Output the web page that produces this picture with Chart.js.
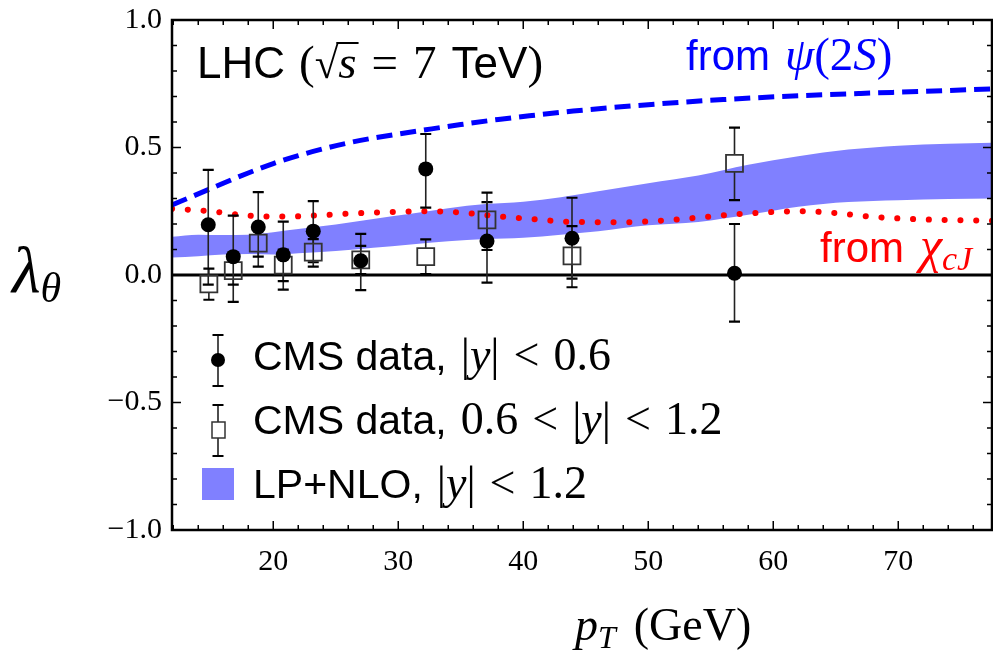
<!DOCTYPE html>
<html>
<head>
<meta charset="utf-8">
<script src="https://cdn.jsdelivr.net/npm/chart.js@4.4.1/dist/chart.umd.min.js"></script>
<style>
  html, body { margin: 0; padding: 0; background: #fff; overflow: hidden; }
  #wrap { width: 993px; height: 652px; }
  #grafico { display: block; }
</style>
</head>
<body>
<div id="wrap"><canvas id="grafico" width="993" height="652"></canvas></div>
<script>
// CMS pontos, |y| < 0.6
const ptCentral = [14.8, 16.8, 18.8, 20.8, 23.2, 27.0, 32.2, 37.1, 43.9, 56.9];
const lamCentral = [0.197, 0.072, 0.188, 0.079, 0.172, 0.056, 0.416, 0.133, 0.144, 0.007];
const lamCentralHi = [0.412, 0.233, 0.325, 0.209, 0.290, 0.161, 0.553, 0.286, 0.303, 0.200];
const lamCentralLo = [-0.038, -0.105, 0.033, -0.057, 0.050, -0.059, 0.264, -0.030, -0.014, -0.183];

// CMS pontos, 0.6 < |y| < 1.2
const ptForward = [14.85, 16.8, 18.8, 20.8, 23.2, 27.0, 32.2, 37.1, 43.9, 56.9];
const lamForward = [-0.035, 0.017, 0.125, 0.039, 0.090, 0.059, 0.072, 0.216, 0.075, 0.438];
const lamForwardHi = [0.025, 0.072, 0.178, 0.100, 0.141, 0.114, 0.140, 0.323, 0.192, 0.578];
const lamForwardLo = [-0.097, -0.038, 0.072, -0.024, 0.033, 0.004, 0.004, 0.098, -0.048, 0.294];

// banda LP+NLO
const ptBand = [11.9, 14, 16, 18, 20, 22, 25, 28, 31, 34, 37, 40, 43, 46, 50, 54, 58, 62, 66, 70, 74, 77.5];
const bandTop = [0.150, 0.158, 0.157, 0.158, 0.168, 0.180, 0.198, 0.220, 0.240, 0.262, 0.278, 0.287, 0.305, 0.328, 0.360, 0.390, 0.432, 0.466, 0.492, 0.507, 0.515, 0.519];
const bandBottom = [0.069, 0.074, 0.080, 0.082, 0.080, 0.085, 0.094, 0.107, 0.120, 0.132, 0.141, 0.146, 0.158, 0.172, 0.195, 0.208, 0.236, 0.268, 0.286, 0.293, 0.298, 0.300];

// curvas de feed-down
const ptPsi = [11.9, 14, 16, 18, 20, 22, 24, 26, 28, 30, 32, 35, 38, 41, 44, 50, 56, 62, 67, 72, 77.5];
const lamPsi = [0.275, 0.318, 0.360, 0.400, 0.437, 0.468, 0.495, 0.518, 0.537, 0.553, 0.568, 0.590, 0.610, 0.627, 0.643, 0.668, 0.688, 0.703, 0.712, 0.720, 0.730];
const ptChi = [11.9, 15, 18, 21, 24, 27, 30, 32.5, 35, 38, 41, 44, 48, 51, 54, 57, 60, 62.5, 65, 68, 72, 77.5];
const lamChi = [0.260, 0.250, 0.233, 0.229, 0.235, 0.243, 0.248, 0.250, 0.245, 0.230, 0.218, 0.208, 0.207, 0.213, 0.225, 0.238, 0.247, 0.250, 0.243, 0.228, 0.218, 0.213];

const xTicks = [20, 30, 40, 50, 60, 70];
const yTicks = [-1, -0.5, 0, 0.5, 1];

const pares = (xs, ys) => xs.map((x, i) => ({ x: x, y: ys[i] }));

const sans = s => s + 'px "Liberation Sans"';
const serif = s => s + 'px "Liberation Serif"';
const serifIt = s => 'italic ' + s + 'px "Liberation Serif"';

// escreve uma sequência de pedaços de texto com fontes diferentes
function escreve(ctx, x, y, partes, cor) {
    ctx.fillStyle = cor;
    ctx.strokeStyle = cor;
    ctx.textBaseline = 'alphabetic';
    ctx.textAlign = 'left';
    for (const p of partes) {
        if (p.gap) { x += p.gap; continue; }
        ctx.font = p.f;
        ctx.fillText(p.t, x, y + (p.dy || 0));
        const w = ctx.measureText(p.t).width;
        if (p.barra) {
            ctx.fillRect(x - 2, y - p.barra, w + 4, 2);
        }
        x += w;
    }
    return x;
}

function barraErro(ctx, x, yHi, yLo, abertura) {
    ctx.beginPath();
    if (abertura) {
        ctx.moveTo(x, yHi); ctx.lineTo(x, abertura[0]);
        ctx.moveTo(x, abertura[1]); ctx.lineTo(x, yLo);
    } else {
        ctx.moveTo(x, yHi); ctx.lineTo(x, yLo);
    }
    ctx.lineWidth = 1.6;
    ctx.strokeStyle = '#222';
    ctx.stroke();
    ctx.beginPath();
    ctx.moveTo(x - 5.5, yHi); ctx.lineTo(x + 5.5, yHi);
    ctx.moveTo(x - 5.5, yLo); ctx.lineTo(x + 5.5, yLo);
    ctx.lineWidth = 2.2;
    ctx.strokeStyle = '#000';
    ctx.stroke();
}

// tira o espaço extra que o Chart.js reserva para os rótulos das pontas
function semFolga(s) {
    s.paddingTop = 0; s.paddingBottom = 0;
    s.paddingLeft = 0; s.paddingRight = 0;
}

const BORDA_DIREITA = 992;

const moldura = {
    id: 'moldura',
    // estica a área do gráfico até a borda direita do canvas
    afterLayout(chart) {
        const a = chart.chartArea;
        const dx = BORDA_DIREITA - a.right;
        if (!dx) return;
        a.right += dx;
        a.width += dx;
        const x = chart.scales.x;
        x.right += dx;
        x.width += dx;
        x.configure();
    },
    beforeDatasetsDraw(chart) {
        const { ctx, chartArea: a, scales: { y } } = chart;
        ctx.save();
        ctx.beginPath();
        ctx.moveTo(a.left, y.getPixelForValue(0));
        ctx.lineTo(a.right, y.getPixelForValue(0));
        ctx.lineWidth = 3;
        ctx.strokeStyle = '#000';
        ctx.stroke();
        ctx.restore();
    },
    afterDatasetDraw(chart, args) {
        if (args.meta.label !== 'psi2S') return;
        const { ctx, chartArea: a, scales: { x, y } } = chart;
        ctx.save();
        ctx.beginPath();
        ctx.rect(a.left, a.top, a.right - a.left, a.bottom - a.top);
        ctx.clip();
        ptCentral.forEach((pt, i) => {
            barraErro(ctx, x.getPixelForValue(pt), y.getPixelForValue(lamCentralHi[i]), y.getPixelForValue(lamCentralLo[i]));
        });
        ptForward.forEach((pt, i) => {
            const yc = y.getPixelForValue(lamForward[i]);
            barraErro(ctx, x.getPixelForValue(pt), y.getPixelForValue(lamForwardHi[i]), y.getPixelForValue(lamForwardLo[i]), [yc - 8.5, yc + 8.5]);
        });
        ctx.restore();
    },
    afterDraw(chart) {
        const { ctx, chartArea: a, scales: { x, y } } = chart;
        ctx.save();
        // ticks para dentro nos quatro lados
        ctx.strokeStyle = '#000';
        ctx.lineWidth = 1.5;
        ctx.beginPath();
        for (let v = 12; v <= 77; v += 2) {
            const px = x.getPixelForValue(v);
            const len = v % 10 === 0 ? 9 : 5;
            ctx.moveTo(px, a.bottom); ctx.lineTo(px, a.bottom - len);
            ctx.moveTo(px, a.top); ctx.lineTo(px, a.top + len);
        }
        for (let k = -10; k <= 10; k++) {
            const py = y.getPixelForValue(k / 10);
            const len = k % 5 === 0 ? 9 : 5;
            ctx.moveTo(a.left, py); ctx.lineTo(a.left + len, py);
            ctx.moveTo(a.right, py); ctx.lineTo(a.right - len, py);
        }
        ctx.stroke();
        ctx.lineWidth = 2.5;
        ctx.strokeRect(a.left, a.top, a.right - a.left, a.bottom - a.top);

        // textos dentro do gráfico
        escreve(ctx, 197, 78, [
            { t: 'LHC', f: sans(44) }, { gap: 14 },
            { t: '(', f: serif(47) },
            { t: '\u221A', f: serif(43) },
            { t: 's', f: serifIt(47), barra: 36 }, { gap: 15 },
            { t: '=', f: serif(47) }, { gap: 15 },
            { t: '7', f: serif(47) }, { gap: 15 },
            { t: 'TeV', f: sans(44) },
            { t: ')', f: serif(47) }
        ], '#000');
        escreve(ctx, 686, 70, [
            { t: 'from', f: sans(42) }, { gap: 15 },
            { t: '\u03C8', f: serifIt(47) },
            { t: '(2', f: serif(47) },
            { t: 'S', f: serifIt(47) },
            { t: ')', f: serif(47) }
        ], '#0000ff');
        escreve(ctx, 820, 262, [
            { t: 'from', f: sans(42) }, { gap: 16 },
            { t: '\u03C7', f: serifIt(50) },
            { t: 'cJ', f: serifIt(34), dy: 8 }
        ], '#ff0000');

        // legenda
        const linha = [370, 434, 498];
        escreve(ctx, 253, linha[0], [
            { t: 'CMS data,', f: sans(41) }, { gap: 14 },
            { t: '|', f: serif(46) }, { t: 'y', f: serifIt(46) }, { t: '|', f: serif(46) }, { gap: 14 },
            { t: '<', f: serif(46) }, { gap: 14 },
            { t: '0.6', f: serif(46) }
        ], '#000');
        escreve(ctx, 253, linha[1], [
            { t: 'CMS data,', f: sans(41) }, { gap: 14 },
            { t: '0.6', f: serif(46) }, { gap: 14 },
            { t: '<', f: serif(46) }, { gap: 14 },
            { t: '|', f: serif(46) }, { t: 'y', f: serifIt(46) }, { t: '|', f: serif(46) }, { gap: 14 },
            { t: '<', f: serif(46) }, { gap: 14 },
            { t: '1.2', f: serif(46) }
        ], '#000');
        escreve(ctx, 253, linha[2], [
            { t: 'LP+NLO,', f: sans(41) }, { gap: 14 },
            { t: '|', f: serif(46) }, { t: 'y', f: serifIt(46) }, { t: '|', f: serif(46) }, { gap: 14 },
            { t: '<', f: serif(46) }, { gap: 14 },
            { t: '1.2', f: serif(46) }
        ], '#000');
        barraErro(ctx, 218, 335, 386);
        ctx.beginPath(); ctx.arc(218, 360, 7, 0, 2 * Math.PI); ctx.fillStyle = '#000'; ctx.fill();
        barraErro(ctx, 218, 405, 456, [422, 438]);
        ctx.lineWidth = 1.5; ctx.strokeStyle = '#333';
        ctx.strokeRect(212, 422, 13, 16);
        ctx.fillStyle = '#8080ff';
        ctx.fillRect(202, 468, 32, 32);

        // títulos dos eixos
        escreve(ctx, 12, 292, [
            { t: '\u03BB', f: serifIt(66) },
            { t: '\u03B8', f: serifIt(42), dy: 10 }
        ], '#000');
        escreve(ctx, 575, 640, [
            { t: 'p', f: serifIt(46) },
            { t: 'T', f: serifIt(32), dy: 8 }, { gap: 18 },
            { t: '(GeV)', f: serif(46) }
        ], '#000');
        ctx.restore();
    }
};

const ctx = document.getElementById('grafico').getContext('2d');
new Chart(ctx, {
    type: 'scatter',
    data: {
        datasets: [
            {
                label: 'central',
                data: pares(ptCentral, lamCentral),
                pointStyle: 'circle',
                pointRadius: 7.5,
                backgroundColor: '#000',
                borderColor: '#000',
                borderWidth: 0,
                order: 1
            },
            {
                label: 'forward',
                data: pares(ptForward, lamForward),
                pointStyle: 'rect',
                pointRadius: 12,
                backgroundColor: 'rgba(0,0,0,0)',
                borderColor: '#333',
                borderWidth: 1.8,
                order: 2
            },
            {
                label: 'psi2S',
                data: pares(ptPsi, lamPsi),
                showLine: true,
                pointRadius: 0,
                borderColor: '#0000ff',
                borderWidth: 5,
                borderDash: [16, 8],
                cubicInterpolationMode: 'monotone',
                order: 3
            },
            {
                label: 'chicJ',
                data: pares(ptChi, lamChi),
                showLine: true,
                pointRadius: 0,
                borderColor: '#ff0000',
                borderWidth: 6,
                borderDash: [0.1, 15.7],
                borderCapStyle: 'round',
                cubicInterpolationMode: 'monotone',
                order: 4
            },
            {
                label: 'bandaTopo',
                data: pares(ptBand, bandTop),
                showLine: true,
                pointRadius: 0,
                borderWidth: 0,
                borderColor: 'rgba(0,0,0,0)',
                backgroundColor: '#8080ff',
                fill: '+1',
                cubicInterpolationMode: 'monotone',
                order: 5
            },
            {
                label: 'bandaBase',
                data: pares(ptBand, bandBottom),
                showLine: true,
                pointRadius: 0,
                borderWidth: 0,
                borderColor: 'rgba(0,0,0,0)',
                fill: false,
                cubicInterpolationMode: 'monotone',
                order: 6
            }
        ]
    },
    options: {
        responsive: false,
        animation: false,
        devicePixelRatio: 1,
        layout: { padding: { top: 20, right: 1, left: 0, bottom: 0 } },
        plugins: { legend: { display: false }, tooltip: { enabled: false } },
        scales: {
            x: {
                type: 'linear',
                min: 11.9,
                max: 77.5,
                grid: { display: false, drawTicks: false },
                border: { display: false },
                afterBuildTicks: s => { s.ticks = xTicks.map(v => ({ value: v })); },
                afterFit: s => { s.height = 122; semFolga(s); },
                ticks: {
                    padding: 14,
                    color: '#000',
                    font: { family: 'Liberation Serif', size: 30 },
                    maxRotation: 0,
                    callback: v => String(v)
                }
            },
            y: {
                type: 'linear',
                min: -1,
                max: 1,
                grid: { display: false, drawTicks: false },
                border: { display: false },
                afterBuildTicks: s => { s.ticks = yTicks.map(v => ({ value: v })); },
                afterFit: s => { s.width = 172; semFolga(s); },
                ticks: {
                    padding: 10,
                    color: '#000',
                    font: { family: 'Liberation Serif', size: 30 },
                    callback: v => v.toFixed(1).replace('-', '\u2212')
                }
            }
        }
    },
    plugins: [moldura]
});
</script>
</body>
</html>
